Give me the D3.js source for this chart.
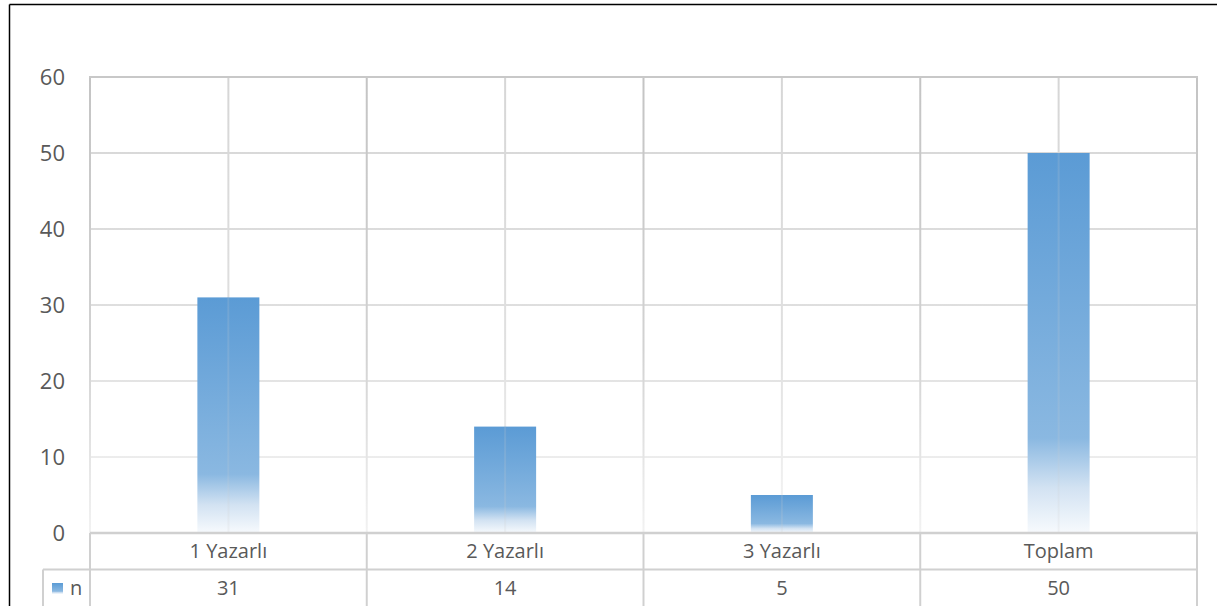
<!DOCTYPE html>
<html>
<head>
<meta charset="utf-8">
<script src="https://cdn.jsdelivr.net/npm/d3@7"></script>
<style>
  html, body { margin: 0; padding: 0; background: #fff; }
  svg { display: block; font-family: "Open Sans", "Noto Sans", sans-serif; }
</style>
</head>
<body>
<svg id="chart" width="1217" height="606"></svg>
<script>
const categories = ["1 Yazarlı", "2 Yazarlı", "3 Yazarlı", "Toplam"];
const values = [31, 14, 5, 50];
const yTicks = [0, 10, 20, 30, 40, 50, 60];
const seriesName = "n";

const W = 1217, H = 606;
const plot = { left: 90, right: 1197, top: 77, bottom: 533 };
const rowH = 36.5;

const svg = d3.select("#chart");
const defs = svg.append("defs");

const x = d3.scaleBand().domain(categories).range([plot.left, plot.right]).padding(0);
const y = d3.scaleLinear().domain([0, 60]).range([plot.bottom, plot.top]);

// gradients
const barGrad = defs.append("linearGradient").attr("id", "barGrad")
  .attr("x1", 0).attr("y1", 0).attr("x2", 0).attr("y2", 1);
[[0, "#5b9bd5"], [0.75, "#8ab8e1"], [0.88, "#d2e2f2"], [1, "#f7fafd"]]
  .forEach(([o, c]) => barGrad.append("stop").attr("offset", o).attr("stop-color", c));

const gMaj = defs.append("linearGradient").attr("id", "gMaj")
  .attr("gradientUnits", "userSpaceOnUse")
  .attr("x1", 0).attr("y1", plot.top).attr("x2", 0).attr("y2", plot.bottom);
[[0, "#c4c4c4"], [0.6, "#d2d2d2"], [1, "#f2f2f2"]]
  .forEach(([o, c]) => gMaj.append("stop").attr("offset", o).attr("stop-color", c));
const gMin = defs.append("linearGradient").attr("id", "gMin")
  .attr("gradientUnits", "userSpaceOnUse")
  .attr("x1", 0).attr("y1", plot.top).attr("x2", 0).attr("y2", plot.bottom);
[[0, "#d6d6d6"], [0.6, "#e0e0e0"], [1, "#f5f5f5"]]
  .forEach(([o, c]) => gMin.append("stop").attr("offset", o).attr("stop-color", c));

// outer frame
svg.append("line").attr("x1", 9.5).attr("x2", W).attr("y1", 4.5).attr("y2", 4.5)
  .attr("stroke", "#000").attr("stroke-width", 1.5);
svg.append("line").attr("x1", 9.5).attr("x2", 9.5).attr("y1", 4.5).attr("y2", H)
  .attr("stroke", "#000").attr("stroke-width", 1.5);

// horizontal gridlines
svg.append("g").selectAll("line").data(yTicks.filter(d => d > 0 && d < 60)).join("line")
  .attr("x1", plot.left).attr("x2", plot.right)
  .attr("y1", d => y(d)).attr("y2", d => y(d))
  .attr("stroke", "url(#gMin)").attr("stroke-width", 2);

// vertical center gridlines
svg.append("g").selectAll("line").data(categories).join("line")
  .attr("x1", d => x(d) + x.bandwidth() / 2).attr("x2", d => x(d) + x.bandwidth() / 2)
  .attr("y1", plot.top).attr("y2", plot.bottom)
  .attr("stroke", "url(#gMin)").attr("stroke-width", 2);

// vertical boundaries (major)
const bounds = categories.map(d => x(d)).concat([plot.right]);
svg.append("g").selectAll("line").data(bounds).join("line")
  .attr("x1", d => d).attr("x2", d => d)
  .attr("y1", plot.top).attr("y2", plot.bottom)
  .attr("stroke", "url(#gMaj)").attr("stroke-width", 2);
// top border
svg.append("line").attr("x1", plot.left - 1).attr("x2", plot.right + 1)
  .attr("y1", y(60)).attr("y2", y(60)).attr("stroke", "#c8c8c8").attr("stroke-width", 2);

// bars
const barW = x.bandwidth() * 0.224;
svg.append("g").selectAll("rect").data(values).join("rect")
  .attr("x", (d, i) => x(categories[i]) + x.bandwidth() / 2 - barW / 2)
  .attr("width", barW)
  .attr("y", d => y(d))
  .attr("height", d => y(0) - y(d))
  .attr("fill", "url(#barGrad)");

// faint center lines over bars
svg.append("g").selectAll("line").data(values).join("line")
  .attr("x1", (d, i) => x(categories[i]) + x.bandwidth() / 2)
  .attr("x2", (d, i) => x(categories[i]) + x.bandwidth() / 2)
  .attr("y1", d => y(d)).attr("y2", plot.bottom)
  .attr("stroke", "#cccccc").attr("stroke-opacity", 0.18).attr("stroke-width", 2);

// y axis labels
svg.append("g").selectAll("text").data(yTicks).join("text")
  .attr("x", 65).attr("y", d => y(d))
  .attr("dy", "0.36em")
  .attr("text-anchor", "end")
  .attr("fill", "#595959")
  .attr("font-size", 22)
  .text(d => d);

// data table
const tableColor = "#d0d0d0";
const t = svg.append("g");
const row1Top = plot.bottom, row2Top = plot.bottom + rowH;
t.append("line").attr("x1", plot.left).attr("x2", plot.right + 1).attr("y1", row1Top).attr("y2", row1Top)
  .attr("stroke", tableColor).attr("stroke-width", 2.5);
t.append("line").attr("x1", 43).attr("x2", plot.right + 1).attr("y1", row2Top).attr("y2", row2Top)
  .attr("stroke", tableColor).attr("stroke-width", 2);
t.selectAll("line.v").data(bounds).join("line").attr("class", "v")
  .attr("x1", d => d).attr("x2", d => d).attr("y1", row1Top).attr("y2", H)
  .attr("stroke", tableColor).attr("stroke-width", 2);
t.append("line").attr("x1", 43).attr("x2", 43).attr("y1", row2Top).attr("y2", H)
  .attr("stroke", tableColor).attr("stroke-width", 2);

t.selectAll("text.cat").data(categories).join("text").attr("class", "cat")
  .attr("x", d => x(d) + x.bandwidth() / 2).attr("y", row1Top + rowH / 2)
  .attr("dy", "0.36em").attr("text-anchor", "middle")
  .attr("fill", "#595959").attr("font-size", 20).text(d => d);
t.selectAll("text.val").data(values).join("text").attr("class", "val")
  .attr("x", (d, i) => x(categories[i]) + x.bandwidth() / 2).attr("y", row2Top + rowH / 2)
  .attr("dy", "0.36em").attr("text-anchor", "middle")
  .attr("fill", "#595959").attr("font-size", 20).text(d => d);

// legend key
t.append("rect").attr("x", 52).attr("y", 583).attr("width", 11).attr("height", 11)
  .attr("fill", "url(#barGrad)");
t.append("text").attr("x", 70).attr("y", row2Top + rowH / 2).attr("dy", "0.36em")
  .attr("fill", "#595959").attr("font-size", 20).text(seriesName);
</script>
</body>
</html>
